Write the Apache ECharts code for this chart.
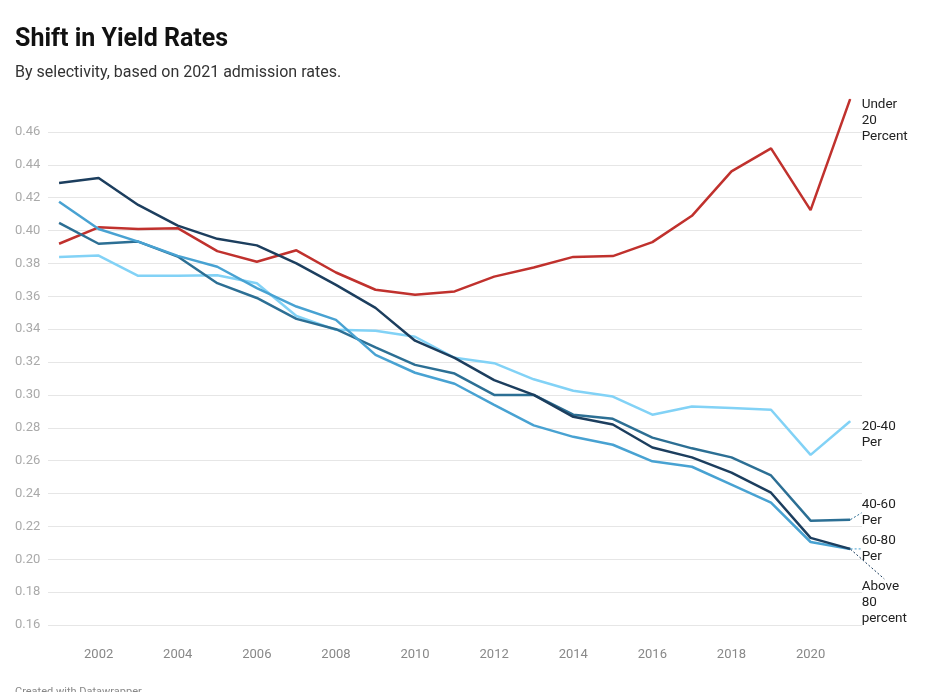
<!DOCTYPE html>
<html>
<head>
<meta charset="utf-8">
<script src="https://cdn.jsdelivr.net/npm/echarts@6/dist/echarts.min.js"></script>
<style>
html,body{margin:0;padding:0;background:#fff;}
#chart{width:928px;height:692px;}
</style>
</head>
<body>
<div id="chart"></div>
<script>
const years = [2001,2002,2003,2004,2005,2006,2007,2008,2009,2010,2011,2012,2013,2014,2015,2016,2017,2018,2019,2020,2021];
const xTickLabels = [2002,2004,2006,2008,2010,2012,2014,2016,2018,2020];
const under20 = [0.392,0.402,0.401,0.4015,0.3875,0.381,0.388,0.3745,0.364,0.361,0.363,0.372,0.3775,0.384,0.3845,0.393,0.409,0.436,0.450,0.4125,0.480];
const p20to40 = [0.384,0.3848,0.3725,0.3725,0.3728,0.368,0.348,0.3396,0.339,0.3354,0.3226,0.3193,0.3095,0.3025,0.299,0.288,0.293,0.292,0.291,0.2635,0.284];
const p40to60 = [0.4047,0.392,0.3933,0.3842,0.368,0.359,0.3463,0.340,0.329,0.3183,0.313,0.300,0.300,0.288,0.2855,0.274,0.2675,0.262,0.251,0.2235,0.224];
const p60to80 = [0.4176,0.401,0.3933,0.3846,0.378,0.365,0.3538,0.3457,0.3244,0.3135,0.3068,0.294,0.2815,0.2745,0.2697,0.2596,0.2563,0.2454,0.2344,0.2105,0.2063];
const above80 = [0.429,0.432,0.4156,0.403,0.395,0.391,0.380,0.367,0.353,0.333,0.3226,0.309,0.300,0.2867,0.282,0.268,0.262,0.2527,0.2405,0.213,0.2063];
const yTicks = [0.16,0.46,0.02];

const seriesDefs = [
  {name:'Under\n20\nPercent', values: under20, color:'#c0312d', dy: 21, guide:false},
  {name:'20-40\nPer', values: p20to40, color:'#82d2f6', dy: 13, guide:false},
  {name:'40-60\nPer', values: p40to60, color:'#2c6f94', dy: -7, guide:true},
  {name:'60-80\nPer', values: p60to80, color:'#48a2d2', dy: 0, guide:true},
  {name:'Above\n80\npercent', values: above80, color:'#1c3e5e', dy: 54, guide:true}
];

const chart = echarts.init(document.getElementById('chart'), null, {renderer:'canvas'});
const FONT = 'Roboto, "Noto Sans", sans-serif';

const series = seriesDefs.map(function(s){
  const last = s.values.length - 1;
  const data = s.values.map(function(v,i){
    const item = {value:[years[i], v]};
    if (i === last) {
      item.symbolSize = 1;
      item.label = {
        show:true, position:'right', distance:11,
        formatter: s.name, color:'#222', fontSize:13.5, lineHeight:16,
        fontFamily: FONT, align:'left', verticalAlign:'middle', opacity:1
      };
      item.labelLine = {show: s.guide, lineStyle:{color:s.color, width:1, type:[2,2]}};
    } else {
      item.symbolSize = 0;
    }
    return item;
  });
  return {
    type:'line', name:s.name, data:data,
    showSymbol:true, symbol:'circle', showAllSymbol:true,
    itemStyle:{color:s.color},
    lineStyle:{color:s.color, width:2.5},
    clip:false, silent:true, animation:false,
    emphasis:{disabled:true},
    labelLayout:{dy:s.dy}
  };
});

chart.setOption({
  backgroundColor:'#fff',
  animation:false,
  title:[
    {text:'Shift in Yield Rates', left:10, top:22, textStyle:{fontFamily:FONT, fontSize:25, fontWeight:'bold', color:'#111'}},
    {text:'By selectivity, based on 2021 admission rates.', left:10, top:60, textStyle:{fontFamily:FONT, fontSize:16, fontWeight:'normal', color:'#333'}},
    {text:'Created with Datawrapper', left:10, top:682, textStyle:{fontFamily:FONT, fontSize:11, fontWeight:'normal', color:'#888'}}
  ],
  grid:{left:48, right:66, top:132, bottom:67, containLabel:false},
  xAxis:{
    type:'value', min:2000.72, max:2021.3,
    axisLine:{show:false}, axisTick:{show:false}, splitLine:{show:false},
    axisLabel:{customValues:xTickLabels, color:'#888', fontSize:13, fontFamily:FONT, margin:23, formatter:function(v){return String(v);}}
  },
  yAxis:{
    type:'value', min:yTicks[0], max:yTicks[1], interval:yTicks[2],
    axisLine:{show:false}, axisTick:{show:false},
    splitLine:{lineStyle:{color:'#e6e6e6', width:1}},
    axisLabel:{color:'#aaa', fontSize:13, fontFamily:FONT, align:'left', margin:33, formatter:function(v){return v.toFixed(2);}}
  },
  series:series
});
</script>
</body>
</html>
